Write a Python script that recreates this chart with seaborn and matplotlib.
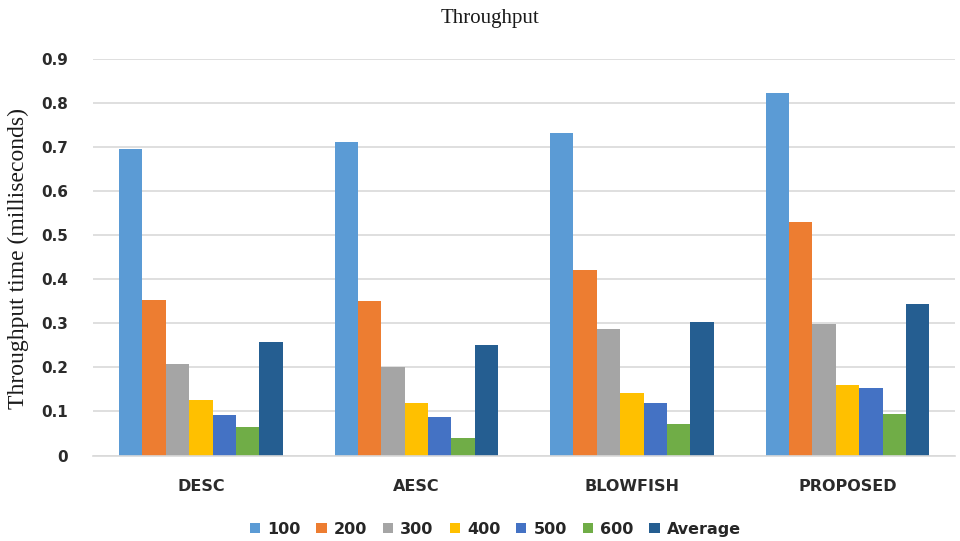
import pandas as pd
import matplotlib
matplotlib.use("Agg")
import matplotlib.pyplot as plt
import seaborn as sns

algorithms = ["DESC", "AESC", "BLOWFISH", "PROPOSED"]
sizes = ["100", "200", "300", "400", "500", "600", "Average"]

vals_100 = [0.695, 0.712, 0.732, 0.822]
vals_200 = [0.353, 0.351, 0.420, 0.530]
vals_300 = [0.207, 0.200, 0.287, 0.299]
vals_400 = [0.125, 0.119, 0.141, 0.161]
vals_500 = [0.092, 0.088, 0.119, 0.154]
vals_600 = [0.065, 0.039, 0.071, 0.095]
vals_avg = [0.257, 0.250, 0.303, 0.343]

colors = ["#5B9BD5", "#ED7D31", "#A5A5A5", "#FFC000", "#4472C4", "#70AD47", "#255E91"]

series = [vals_100, vals_200, vals_300, vals_400, vals_500, vals_600, vals_avg]
rows = []
for name, vals in zip(sizes, series):
    for alg, v in zip(algorithms, vals):
        rows.append({"algorithm": alg, "size": name, "time": v})
df = pd.DataFrame(rows)

sns.set_theme(style="white")
plt.rcParams['font.family'] = ['DejaVu Sans']

fig = plt.figure(figsize=(9.6, 5.41), dpi=100)
ax = fig.add_axes([0.097, 0.158, 0.898, 0.733])

sns.barplot(data=df, x="algorithm", y="time", hue="size", order=algorithms,
            hue_order=sizes, palette=colors, width=0.76, saturation=1,
            errorbar=None, linewidth=0, ax=ax)

ax.set_ylim(0, 0.9)
ax.set_xlim(-0.5, 3.5)
ax.set_yticks([i / 10 for i in range(10)])
ax.set_yticklabels(["0"] + [f"{i / 10:.1f}" for i in range(1, 10)])
ax.yaxis.grid(True, color="#D9D9D9", linewidth=1.2)
ax.set_axisbelow(True)
for s in ["top", "right", "left"]:
    ax.spines[s].set_visible(False)
ax.spines["bottom"].set_color("#D9D9D9")
ax.spines["bottom"].set_linewidth(1.2)
ax.tick_params(axis="both", length=0, labelsize=11, colors="#2b2b2b")
ax.tick_params(axis="y", pad=18)
ax.tick_params(axis="x", pad=17, labelsize=11.5)
for lbl in ax.get_xticklabels() + ax.get_yticklabels():
    lbl.set_fontweight("bold")

ax.set_xlabel("")
ax.set_ylabel("")
fig.text(18 / 960, 0.523, "Throughput time (milliseconds)", family="Liberation Serif",
         fontsize=17, color="#1a1a1a", rotation=90, ha="center", va="center")
fig.text(0.51, 0.965, "Throughput", family="Liberation Serif", fontsize=15,
         ha="center", va="center", color="#1a1a1a")

handles, labels = ax.get_legend_handles_labels()
ax.legend(handles, labels, loc="center", bbox_to_anchor=(0.516, 0.022),
          bbox_transform=fig.transFigure,
          ncol=7, frameon=False, handlelength=0.63, handleheight=0.63,
          handletextpad=0.45, columnspacing=1.0,
          prop={"size": 11.5, "weight": "bold"})

fig.savefig("out.png", dpi=100)
